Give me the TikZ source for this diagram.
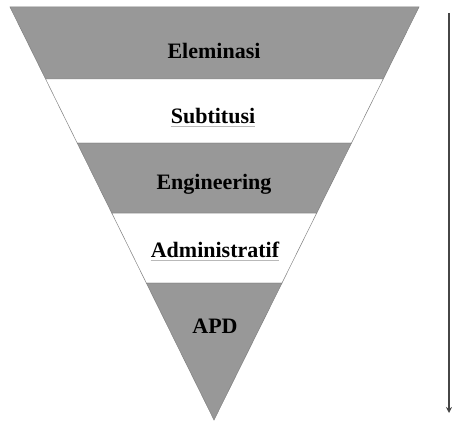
\documentclass[tikz,border=0pt]{standalone}
\usepackage{fontspec}
\setmainfont{Liberation Serif}
\usetikzlibrary{calc,arrows.meta}
\definecolor{bandgray}{RGB}{152,152,152}
\definecolor{edgegray}{RGB}{130,130,130}
\definecolor{arrowgray}{RGB}{70,70,70}
\definecolor{ulgray}{RGB}{185,185,185}
\begin{document}
\begin{tikzpicture}[x=1pt,y=-1pt,
  label/.style={font=\fontsize{22}{24}\selectfont\bfseries, text=black, inner sep=0pt},
  band/.style={fill=bandgray, draw=edgegray, line width=0.5pt},
  wband/.style={fill=white, draw=edgegray, line width=0.5pt}]
\useasboundingbox (0,0) rectangle (452,422);
\coordinate (TL) at (10,7);
\coordinate (TR) at (419,7);
\coordinate (A) at (214,420);
% boundaries
\coordinate (L1) at ($(TL)!0.1743!(A)$); \coordinate (R1) at ($(TR)!0.1743!(A)$);
\coordinate (L2) at ($(TL)!0.3293!(A)$); \coordinate (R2) at ($(TR)!0.3293!(A)$);
\coordinate (L3) at ($(TL)!0.4988!(A)$); \coordinate (R3) at ($(TR)!0.4988!(A)$);
\coordinate (L4) at ($(TL)!0.6683!(A)$); \coordinate (R4) at ($(TR)!0.6683!(A)$);
\path[band]  (TL) -- (TR) -- (R1) -- (L1) -- cycle;
\path[wband] (L1) -- (R1) -- (R2) -- (L2) -- cycle;
\path[band]  (L2) -- (R2) -- (R3) -- (L3) -- cycle;
\path[wband] (L3) -- (R3) -- (R4) -- (L4) -- cycle;
\path[band]  (L4) -- (R4) -- (A) -- cycle;
% labels
\node[label] (elim) at (214,51) {Eleminasi};
\node[label] (subs) at (213,116) {Subtitusi};
\node[label] (eng)  at (214,184) {Engineering};
\node[label] (adm)  at (215,250) {Administratif};
\node[label] (apd)  at (215,326) {APD};
\draw[ulgray, line width=0.5pt] ($(subs.south west)+(0,2)$) -- ($(subs.south east)+(0,2)$);
\draw[ulgray, line width=0.5pt] ($(adm.south west)+(0,2)$) -- ($(adm.south east)+(0,2)$);
% arrow
\coordinate (as) at (449,13);
\coordinate (ae) at (449,413);
\draw[arrowgray, line width=2.2pt, -{Stealth[length=6pt,width=6pt]}] (as) -- (ae);
\end{tikzpicture}
\end{document}
